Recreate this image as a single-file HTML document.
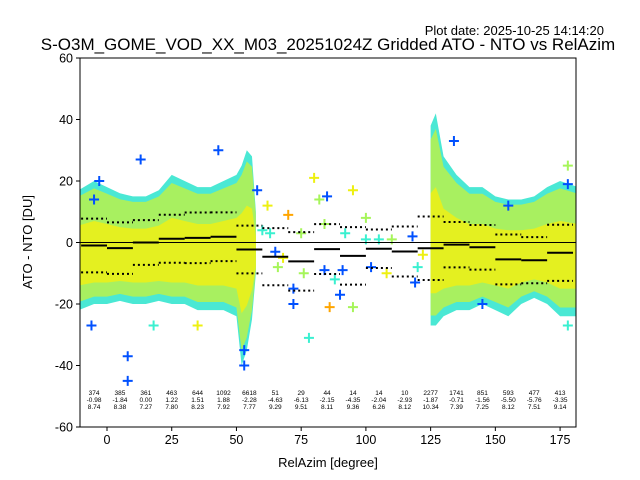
<!DOCTYPE html>
<html><head><meta charset="utf-8">
<style>
body{margin:0;background:#fff;}
svg{display:block;font-family:"Liberation Sans","DejaVu Sans",sans-serif;}
</style></head>
<body>
<svg id="chart" width="640" height="480" viewBox="0 0 640 480">
<defs><clipPath id="pc"><rect x="80" y="58" width="496" height="369"/></clipPath></defs>
<text x="604" y="35" font-size="13" text-anchor="end">Plot date: 2025-10-25 14:14:20</text>
<text x="328" y="50" font-size="17" text-anchor="middle">S-O3M_GOME_VOD_XX_M03_20251024Z Gridded ATO - NTO vs RelAzim</text>
<g id="plot" clip-path="url(#pc)"></g>
<rect x="80" y="58" width="496" height="369" fill="none" stroke="#000" stroke-width="1"/>
<g id="axes"></g>
<text x="328" y="467" font-size="13" text-anchor="middle">RelAzim [degree]</text>
<text x="32" y="242" font-size="13" text-anchor="middle" transform="rotate(-90 32 242)">ATO - NTO [DU]</text>
</svg>
<script>
const binStarts=[-10,0,10,20,30,40,50,60,70,80,90,100,110,120,130,140,150,160,170];
const binCounts=[374,385,361,463,644,1092,6618,51,29,44,14,14,10,2277,1741,851,593,477,413];
const binMeans=[-0.98,-1.84,0.00,1.22,1.51,1.88,-2.28,-4.63,-6.13,-2.15,-4.35,-2.04,-2.93,-1.87,-0.71,-1.56,-5.50,-5.76,-3.35];
const binStds=[8.74,8.38,7.27,7.80,8.23,7.92,7.77,9.29,9.51,8.11,9.36,6.26,8.12,10.34,7.39,7.25,8.12,7.51,9.14];
const cloud1X=[-11,-5,0,5,10,15,20,25,30,35,40,45,50,52,54,56,57.5];
const cloud1Top=[17,20,18,16,15,15,17,22,20,18,18,20,22,25,30,28,10];
const cloud1Bot=[-22,-20,-20,-19,-20,-20,-19,-20,-20,-22,-22,-22,-24,-40,-35,-25,-10];
const cloud2X=[125,127,130,135,140,145,150,155,160,165,170,175,182];
const cloud2Top=[38,42,28,22,18,18,15,14,14,15,18,20,18];
const cloud2Bot=[-27,-27,-24,-22,-22,-20,-22,-24,-20,-18,-20,-24,-24];
const ptX=[58,62,63,65,66,70,72,72,75,78,80,82,84,85,84,86,88,90,91,95,95,100,102,100,105,110,118,119,120,122,8,8,13,-6,43,35,53,53,134,145,155,178,178,178,-3,-5,18,60,68,76,92,108];
const ptY=[17,12,3,-3,-8,9,-15,-20,3,-31,21,14,6,15,-9,-21,-12,-17,-9,17,-21,8,-8,1,1,1,2,-13,-8,-4,-37,-45,27,-27,30,-27,-40,-35,33,-20,12,19,-27,25,20,14,-27,4,-5,-10,3,-10];
const ptC=["b","y","c","b","l","o","b","b","l","c","y","l","l","b","b","o","c","b","b","y","l","l","b","c","c","l","b","b","c","y","b","b","b","b","b","y","b","b","b","b","b","b","c","l","b","b","c","c","y","l","c","y"];
const colors={b:"#0050ff",y:"#eef010",l:"#a6f55a",c:"#3af0d0",o:"#ffa500"};
const xs=v=>107+v*2.589, ys=v=>242.5-v*3.075;
const NS="http://www.w3.org/2000/svg";
const plot=document.getElementById('plot'), axes=document.getElementById('axes');
function mk(tag,attrs,parent){const e=document.createElementNS(NS,tag);for(const k in attrs)e.setAttribute(k,attrs[k]);parent.appendChild(e);return e;}
function poly(X,T,B,scale,off,fill,name){
  let pts=X.map((x,i)=>xs(x)+","+ys(T[i]*scale+off));
  for(let i=X.length-1;i>=0;i--)pts.push(xs(X[i])+","+ys(B[i]*scale+off));
  const p=mk('polygon',{points:pts.join(' '),fill:fill},plot);
  
  
}
[[cloud1X,cloud1Top,cloud1Bot,'cloud-a'],[cloud2X,cloud2Top,cloud2Bot,'cloud-b']].forEach(c=>{
  poly(c[0],c[1],c[2],1,0,"#4ae8d4",c[3]+'-outer');
  poly(c[0],c[1],c[2],0.88,0,"#a8f060",c[3]+'-mid');
  poly(c[0],c[1],c[2],0.5,-3,"#e4f020",c[3]+'-core');
});
ptX.forEach((x,i)=>{
  const cx=xs(x),cy=ys(ptY[i]);
  const p=mk('path',{d:`M${cx-5} ${cy}H${cx+5}M${cx} ${cy-5}V${cy+5}`,stroke:colors[ptC[i]],'stroke-width':2},plot);
  
  
});
mk('line',{x1:80,x2:576,y1:ys(0),y2:ys(0),stroke:'#000','stroke-width':1},plot);
binStarts.forEach((b,i)=>{
  const x1=xs(b),x2=xs(b+10);
  const m=mk('line',{x1:x1,x2:x2,y1:ys(binMeans[i]),y2:ys(binMeans[i]),stroke:'#000','stroke-width':2},plot);
  
  
  [1,-1].forEach(s=>{
    const v=binMeans[i]+s*binStds[i];
    const d=mk('line',{x1:x1,x2:x2,y1:ys(v),y2:ys(v),stroke:'#000','stroke-width':2,'stroke-dasharray':'2,3'},plot);
    
    
  });
  const cx=xs(b+5);
  [binCounts[i],binMeans[i].toFixed(2),binStds[i].toFixed(2)].forEach((t,j)=>{
    const tx=mk('text',{x:cx,y:395+j*7,'font-size':6.5,'text-anchor':'middle'},plot);
    tx.textContent=t;
    
    
  });
});
const xTicks=[0,25,50,75,100,125,150,175];
const yTicks=[-60,-40,-20,0,20,40,60];
xTicks.forEach(t=>{
  mk('line',{x1:xs(t),x2:xs(t),y1:427,y2:431,stroke:'#000'},axes);
  const tx=mk('text',{x:xs(t),y:444,'font-size':12.5,'text-anchor':'middle'},axes);
  tx.textContent=t;
  
  
});
yTicks.forEach(t=>{
  mk('line',{x1:76,x2:80,y1:ys(t),y2:ys(t),stroke:'#000'},axes);
  const tx=mk('text',{x:73,y:ys(t)+4.5,'font-size':12.5,'text-anchor':'end'},axes);
  tx.textContent=t;
  
  
});
</script>
</body></html>
